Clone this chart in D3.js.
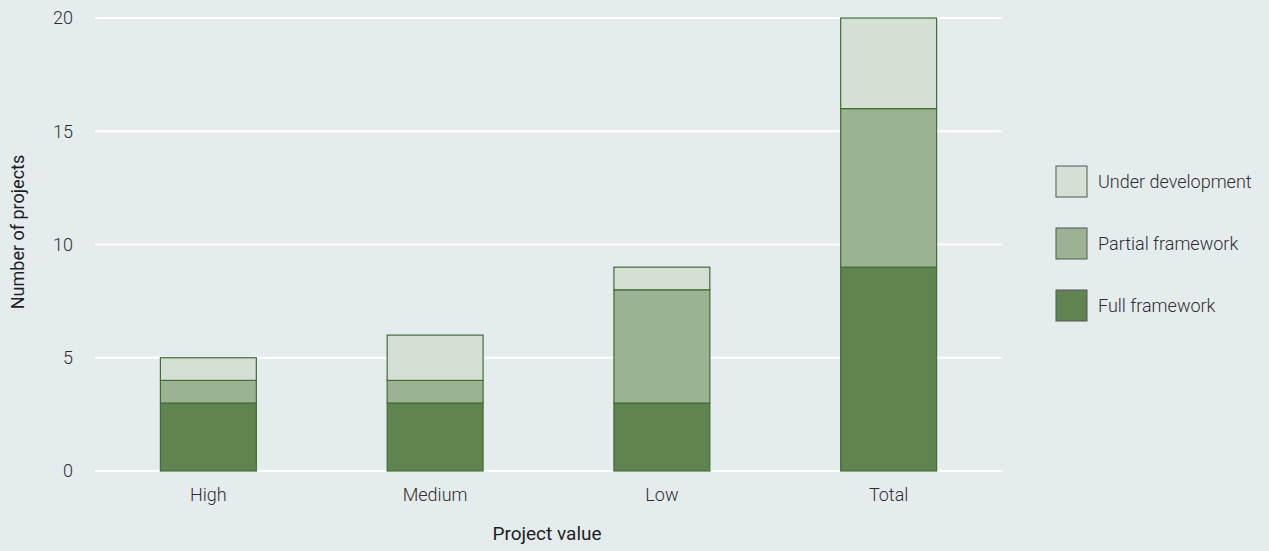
<!DOCTYPE html>
<html>
<head>
<meta charset="utf-8">
<script src="https://cdn.jsdelivr.net/npm/d3@7"></script>
<style>
  html, body { margin: 0; padding: 0; background: #e5ecee; }
  svg { display: block; font-family: Roboto, "Liberation Sans", sans-serif; }
</style>
</head>
<body>
<svg id="chart" width="1269" height="551"></svg>
<script>
// data
const categories = ["High", "Medium", "Low", "Total"];
const fullFramework = [3, 3, 3, 9];
const partialFramework = [1, 1, 5, 7];
const underDevelopment = [1, 2, 1, 4];
const seriesNames = ["Full framework", "Partial framework", "Under development"];
const yTicks = [0, 5, 10, 15, 20];

const colors = ["#60844f", "#9bb393", "#d5e0d5"];

const svg = d3.select("#chart");
const plotLeft = 95, plotRight = 1002, plotTop = 18, plotBottom = 471;

const rows = categories.map((c, i) => ({
  cat: c,
  "Full framework": fullFramework[i],
  "Partial framework": partialFramework[i],
  "Under development": underDevelopment[i]
}));
const stacked = d3.stack().keys(seriesNames)(rows);

const x = d3.scaleBand()
  .domain(categories)
  .range([plotLeft, plotRight])
  .paddingInner(0.577)
  .paddingOuter(0.2885);

const y = d3.scaleLinear()
  .domain([0, 20])
  .range([plotBottom, plotTop]);

// gridlines
svg.append("g")
  .selectAll("line")
  .data(yTicks)
  .join("line")
  .attr("x1", plotLeft)
  .attr("x2", plotRight)
  .attr("y1", d => y(d))
  .attr("y2", d => y(d))
  .attr("stroke", "#fff")
  .attr("stroke-width", 2);

// y axis labels
const yAxis = svg.append("g")
  .attr("transform", "translate(" + plotLeft + ",0)")
  .call(d3.axisLeft(y).tickValues(yTicks).tickSize(0).tickPadding(22));
yAxis.select(".domain").remove();
yAxis.selectAll("text")
  .attr("font-size", 18)
  .attr("font-weight", 300)
  .attr("fill", "#2e2e2e")
  .attr("font-family", "Roboto, 'Liberation Sans', sans-serif");

// x axis labels
const xAxis = svg.append("g")
  .attr("transform", "translate(0," + plotBottom + ")")
  .call(d3.axisBottom(x).tickSize(0).tickPadding(17));
xAxis.select(".domain").remove();
xAxis.selectAll("text")
  .attr("font-size", 18)
  .attr("font-weight", 300)
  .attr("fill", "#2e2e2e")
  .attr("font-family", "Roboto, 'Liberation Sans', sans-serif");

// bars
svg.append("g")
  .selectAll("g")
  .data(stacked)
  .join("g")
  .attr("fill", (d, i) => colors[i])
  .selectAll("rect")
  .data(d => d)
  .join("rect")
  .attr("x", d => x(d.data.cat))
  .attr("width", x.bandwidth())
  .attr("y", d => y(d[1]))
  .attr("height", d => y(d[0]) - y(d[1]))
  .attr("stroke", "#3f6e30")
  .attr("stroke-width", 1.2);

// axis titles
svg.append("text")
  .attr("transform", "translate(24,232) rotate(-90)")
  .attr("text-anchor", "middle")
  .attr("font-size", 18)
  .attr("fill", "#1e1e1e")
  .text("Number of projects");

svg.append("text")
  .attr("x", 547)
  .attr("y", 540)
  .attr("text-anchor", "middle")
  .attr("font-size", 19)
  .attr("fill", "#1e1e1e")
  .text("Project value");

// legend, top item is the last series
const legendItems = seriesNames.slice().reverse();
const legend = svg.append("g")
  .selectAll("g")
  .data(legendItems)
  .join("g")
  .attr("transform", (d, i) => "translate(1056," + (166 + i * 62) + ")");
legend.append("rect")
  .attr("width", 31)
  .attr("height", 31)
  .attr("fill", d => colors[seriesNames.indexOf(d)])
  .attr("stroke", "#555")
  .attr("stroke-width", 1);
legend.append("text")
  .attr("x", 42)
  .attr("y", 16)
  .attr("dy", "0.35em")
  .attr("font-size", 18)
  .attr("font-weight", 300)
  .attr("fill", "#2e2e2e")
  .text(d => d);
</script>
</body>
</html>
